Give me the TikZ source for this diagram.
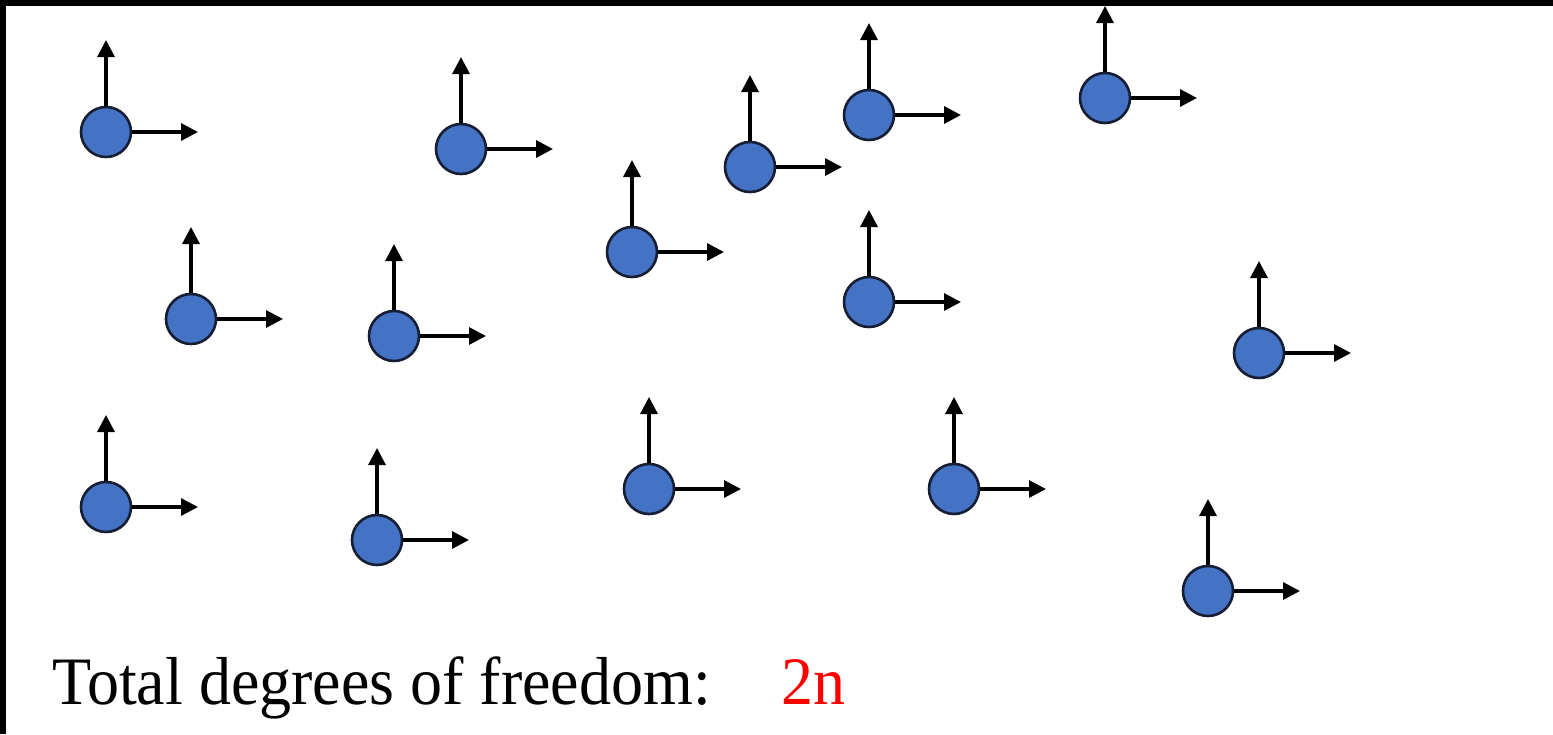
\documentclass[tikz,border=0pt]{standalone}
\usepackage{fontspec}
\setmainfont{Liberation Serif}
\usetikzlibrary{arrows.meta}
\definecolor{ptblue}{RGB}{68,114,196}
\definecolor{ptedge}{RGB}{22,30,52}
\tikzset{
  ptcl/.style={circle,draw=ptedge,fill=ptblue,line width=1.3pt,minimum size=25pt,inner sep=0pt},
  vec/.style={-{Triangle[length=8.5pt,width=8.5pt]},line width=1.6pt},
  frame/.style={fill=black,draw=none},
  every node/.style={font=\fontsize{32}{38}\selectfont}
}

\begin{document}
\begin{tikzpicture}[x=0.5pt,y=-0.5pt]
\useasboundingbox (0,0) rectangle (1553,734);
% particles, each with its two free directions
\foreach \x/\y [count=\i] in {106/132,461/149,750/167,869/115,1105/98,632/252,191/319,394/336,869/302,1259/353,106/507,377/540,649/489,954/489,1208/591}{
  \node[ptcl] (p\i) at (\x,\y) {};
  \path (p\i) ++(0,-92) coordinate (up\i) (p\i) ++(92,0) coordinate (rt\i);
  \draw[vec] (p\i) -- (up\i);
  \draw[vec] (p\i) -- (rt\i);
}
\node[anchor=base west,inner sep=0pt] (total) at (52,704) {\scalebox{1}[1.06]{Total degrees of freedom:\hspace{1.1em}\textcolor{red}{2n}}};
% black edges of the screen grab
\fill[frame] (0,0) rectangle (1553,6);
\fill[frame] (0,0) rectangle (6,734);
\end{tikzpicture}
\end{document}
